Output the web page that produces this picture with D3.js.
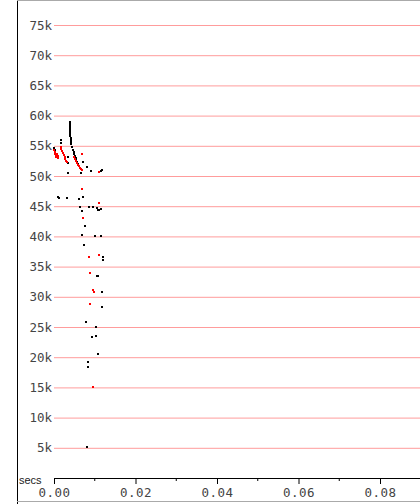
<!DOCTYPE html>
<html>
<head>
<meta charset="utf-8">
<script src="https://cdn.jsdelivr.net/npm/d3@7"></script>
<style>
  body { margin: 0; background: #fff; }
  svg { display: block; }
</style>
</head>
<body>
<svg id="chart" width="420" height="504"></svg>
<script>
// tick values
var yTicks = [5000, 10000, 15000, 20000, 25000, 30000, 35000, 40000, 45000, 50000, 55000, 60000, 65000, 70000, 75000];
var xMajor = [0, 0.02, 0.04, 0.06, 0.08];
var xMinor = [0.01, 0.03, 0.05, 0.07];

// [secs, value] - black series
var blackPts = [
  [0.0000, 54630], [0.0003, 54300], [0.0003, 53970],
  [0.0017, 55960], [0.0017, 55460],
  [0.0034, 53150], [0.0034, 52150], [0.0034, 50500],
  [0.0039, 58940], [0.0039, 58610], [0.0039, 58280], [0.0039, 57950], [0.0040, 57620],
  [0.0040, 57280], [0.0040, 56950], [0.0040, 56620], [0.0041, 56290], [0.0041, 55960],
  [0.0042, 55630], [0.0042, 55300], [0.0044, 54800],
  [0.0046, 54300], [0.0048, 53970], [0.0050, 53640], [0.0051, 53310], [0.0053, 52980],
  [0.0055, 52650], [0.0057, 52320], [0.0059, 51990], [0.0060, 51820],
  [0.0066, 50500], [0.0071, 52320], [0.0081, 51490], [0.0091, 50830],
  [0.0115, 50830], [0.0118, 51000],
  [0.0010, 46520], [0.0012, 46360], [0.0032, 46360], [0.0061, 46190], [0.0071, 46520],
  [0.0064, 44870], [0.0069, 44200], [0.0076, 41720], [0.0069, 40230],
  [0.0101, 40070], [0.0115, 40070],
  [0.0086, 44870], [0.0096, 44870], [0.0106, 44700], [0.0108, 44370], [0.0110, 44370], [0.0115, 44540],
  [0.0074, 38580], [0.0120, 36590], [0.0120, 36090],
  [0.0105, 33440], [0.0108, 33440], [0.0118, 30790], [0.0118, 28310],
  [0.0078, 25830], [0.0103, 25000], [0.0093, 23340], [0.0103, 23510],
  [0.0108, 20530], [0.0083, 19210], [0.0083, 18380], [0.0081, 5130]
];

// [secs, value] - red series
var redPts = [
  [0.0000, 54300], [0.0002, 53970], [0.0003, 53640], [0.0004, 53480], [0.0005, 53310],
  [0.0006, 53150], [0.0008, 53150], [0.0010, 53310], [0.0011, 52980], [0.0007, 53640],
  [0.0017, 54800], [0.0018, 54470], [0.0020, 54140], [0.0022, 53810], [0.0024, 53480],
  [0.0026, 53150], [0.0028, 52810], [0.0030, 52480], [0.0032, 52320],
  [0.0049, 53150], [0.0051, 52810], [0.0054, 52480], [0.0056, 52150], [0.0059, 51820],
  [0.0061, 51660], [0.0064, 51320], [0.0066, 51160], [0.0069, 50990],
  [0.0069, 53640], [0.0110, 50660], [0.0069, 47850], [0.0071, 43050], [0.0110, 45480],
  [0.0086, 36590], [0.0110, 36920], [0.0088, 33940], [0.0096, 31120], [0.0098, 30790],
  [0.0088, 28810], [0.0096, 15070]
];

var svg = d3.select("#chart");
var W = 420, H = 504;
var left = 54, bottom = 478;

var x = d3.scaleLinear()
    .domain([0, (W - left) / 4075])
    .range([left, W]);
var y = d3.scaleLinear()
    .domain([0, 75000])
    .range([bottom, 25]);

// frame
svg.append("line")
    .attr("x1", 17.5).attr("x2", 17.5).attr("y1", 0).attr("y2", H)
    .attr("stroke", "#000");
svg.append("line")
    .attr("x1", 17).attr("x2", W).attr("y1", 0.5).attr("y2", 0.5)
    .attr("stroke", "#aaa");
svg.append("line")
    .attr("x1", 17).attr("x2", W).attr("y1", 501.5).attr("y2", 501.5)
    .attr("stroke", "#aaa");

// y axis with grid lines
var yAxis = svg.append("g")
    .attr("transform", "translate(" + left + ",0)")
    .call(d3.axisLeft(y)
        .tickValues(yTicks)
        .tickSize(-(W - left))
        .tickPadding(2)
        .tickFormat(function(d) { return (d / 1000) + "k"; }));
yAxis.select(".domain").remove();
yAxis.selectAll(".tick line")
    .attr("stroke", "#ff9c9c");
yAxis.selectAll(".tick text")
    .attr("fill", "#444")
    .style("font-family", "'DejaVu Sans Mono', monospace")
    .style("font-size", "12.5px");

// x axis
var xAxis = svg.append("g")
    .attr("transform", "translate(0," + bottom + ")")
    .call(d3.axisBottom(x)
        .tickValues(xMajor)
        .tickSize(6)
        .tickSizeOuter(6)
        .tickPadding(4)
        .tickFormat(d3.format(".2f")));
xAxis.select(".domain").attr("stroke", "#000");
xAxis.selectAll(".tick line").attr("stroke", "#000");
xAxis.selectAll(".tick text")
    .attr("fill", "#444")
    .style("font-family", "'DejaVu Sans Mono', monospace")
    .style("font-size", "12.5px")
    .style("letter-spacing", "0.5px");

xAxis.selectAll(".minor")
    .data(xMinor)
    .enter().append("line")
    .attr("class", "minor")
    .attr("x1", function(d) { return x(d); })
    .attr("x2", function(d) { return x(d); })
    .attr("y1", 0).attr("y2", 3)
    .attr("stroke", "#000");

svg.append("text")
    .attr("x", 19)
    .attr("y", 484)
    .attr("fill", "#222")
    .style("font-family", "'Liberation Sans', Arial, sans-serif")
    .style("font-size", "11px")
    .text("secs");

// points
svg.selectAll(".blk")
    .data(blackPts)
    .enter().append("rect")
    .attr("class", "blk")
    .attr("x", function(d) { return Math.round(x(d[0])) - 1; })
    .attr("y", function(d) { return Math.round(y(d[1])) - 1; })
    .attr("width", 2).attr("height", 2)
    .attr("fill", "#000");

svg.selectAll(".red")
    .data(redPts)
    .enter().append("rect")
    .attr("class", "red")
    .attr("x", function(d) { return Math.round(x(d[0])) - 1; })
    .attr("y", function(d) { return Math.round(y(d[1])) - 1; })
    .attr("width", 2).attr("height", 2)
    .attr("fill", "#f00");
</script>
</body>
</html>
